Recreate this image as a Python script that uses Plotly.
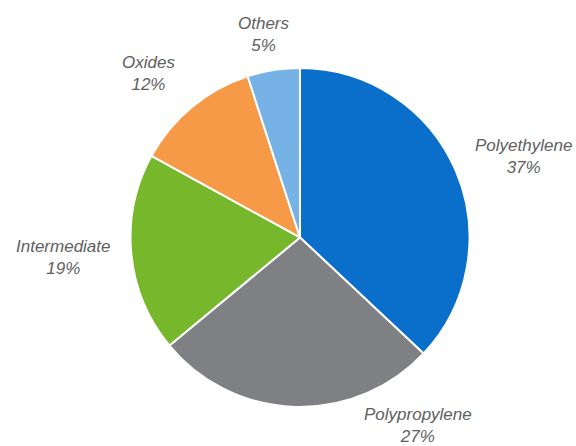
import plotly.graph_objects as go

# Share of consumption by product group
labels = ["Polyethylene", "Polypropylene", "Intermediate", "Oxides", "Others"]
shares = [37, 27, 19, 12, 5]
colors = ["#0A6FCB", "#7F8084", "#77B72B", "#F79A47", "#76B2E5"]

# Label anchor points (paper coordinates) for each slice
label_x = [0.908, 0.726, 0.110, 0.258, 0.458]
label_y = [0.648, 0.047, 0.422, 0.835, 0.923]

fig = go.Figure(
    go.Pie(
        labels=labels,
        values=shares,
        sort=False,
        direction="clockwise",
        rotation=0,
        marker=dict(colors=colors, line=dict(color="white", width=2)),
        textinfo="none",
        hoverinfo="label+percent",
        domain=dict(x=[0.2257, 0.8160], y=[0.0875, 0.8475]),
        showlegend=False,
    )
)

for name, val, x, y in zip(labels, shares, label_x, label_y):
    fig.add_annotation(
        x=x, y=y, xref="paper", yref="paper",
        text=f"<i>{name}</i><br><i>{val}%</i>",
        showarrow=False,
        font=dict(family="Liberation Sans, Arial, sans-serif", size=17, color="#606060"),
        align="center",
        xanchor="center", yanchor="middle",
    )

fig.update_layout(
    width=576, height=446,
    margin=dict(l=0, r=0, t=0, b=0),
    paper_bgcolor="white",
    plot_bgcolor="white",
)

fig.write_html("out.html")
